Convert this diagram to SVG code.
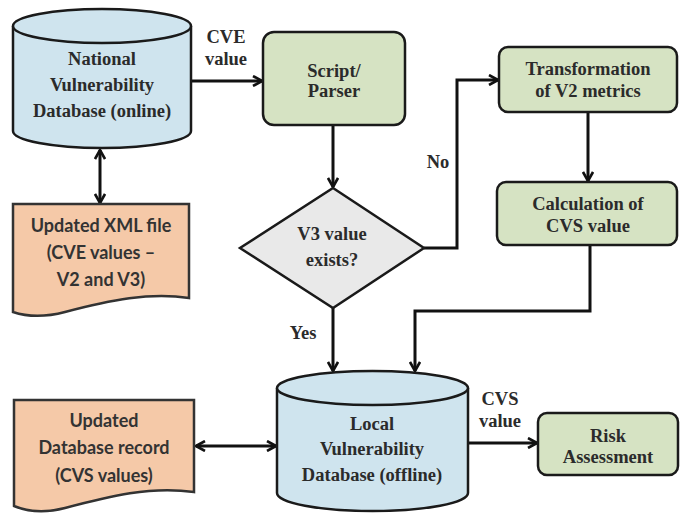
<svg xmlns="http://www.w3.org/2000/svg" width="680" height="515" viewBox="0 0 680 515">
  <style>
    text { font-weight: bold; text-anchor: middle; }
    .ser { font-size: 18.5px; fill: #2b2b2b; }
    .san { font-size: 18px; fill: #333; }
    .db { fill: #cfe4ee; stroke: #1a1a1a; stroke-width: 2.5; }
    .proc { fill: #d6e3c3; stroke: #1a1a1a; stroke-width: 2.5; }
    .doc { fill: #f5c9a8; stroke: #333; stroke-width: 2.5; }
    .dec { fill: #e9e9e9; stroke: #1a1a1a; stroke-width: 2.5; }
    .edge { fill: none; stroke: #111; stroke-width: 3; }
  </style>
  <defs>
    <marker id="arr" viewBox="0 0 12 12" refX="10" refY="6" markerWidth="12" markerHeight="12" markerUnits="userSpaceOnUse" orient="auto-start-reverse">
      <path d="M1,1 L10,6 L1,11" fill="none" stroke="#111" stroke-width="2.6"/>
    </marker>
  </defs>

  <!-- connectors -->
  <g id="connectors">
    <path class="edge" d="M191,81 H262" marker-end="url(#arr)"/>
    <path class="edge" d="M100,150 V203" marker-start="url(#arr)" marker-end="url(#arr)"/>
    <path class="edge" d="M333,125 V187" marker-end="url(#arr)"/>
    <path class="edge" d="M424,248 H457 V80 H498" marker-end="url(#arr)"/>
    <path class="edge" d="M588,112 V181" marker-end="url(#arr)"/>
    <path class="edge" d="M590,245 V311 H415 V371" marker-end="url(#arr)"/>
    <path class="edge" d="M333,308 V371" marker-end="url(#arr)"/>
    <path class="edge" d="M468,443 H537" marker-end="url(#arr)"/>
    <path class="edge" d="M196,446 H276" marker-start="url(#arr)" marker-end="url(#arr)"/>
    <g font-family="Liberation Serif, serif">
      <text class="ser" x="226" y="43">CVE</text>
      <text class="ser" x="226" y="65">value</text>
      <text class="ser" x="438" y="168">No</text>
      <text class="ser" x="303" y="339">Yes</text>
      <text class="ser" x="500" y="405">CVS</text>
      <text class="ser" x="500" y="427">value</text>
    </g>
  </g>

  <!-- National Vulnerability Database -->
  <g id="nvd" font-family="Liberation Serif, serif">
    <path class="db" d="M13,26 V131 A89,17 0 0 0 191,131 V26 A89,17 0 0 0 13,26 Z"/>
    <path class="db" d="M13,26 A89,17 0 0 0 191,26" fill="none"/>
    <text class="ser" x="102" y="65">National</text>
    <text class="ser" x="102" y="91">Vulnerability</text>
    <text class="ser" x="102" y="117">Database (online)</text>
  </g>

  <!-- Updated XML file -->
  <g id="xml" font-family="Lato, Liberation Sans, sans-serif">
    <path class="doc" d="M13,204 H189 V298 C150,292 110,300 65,312 C42,318 25,316 13,312 Z"/>
    <text class="san" x="101" y="232">Updated XML file</text>
    <text class="san" x="101" y="259">(CVE values –</text>
    <text class="san" x="101" y="286">V2 and V3)</text>
  </g>

  <!-- Script/Parser -->
  <g id="parser" font-family="Liberation Serif, serif">
    <rect class="proc" x="263" y="32" width="142" height="93" rx="11"/>
    <text class="ser" x="334" y="77">Script/</text>
    <text class="ser" x="334" y="97">Parser</text>
  </g>

  <!-- V3 value exists? -->
  <g id="check" font-family="Liberation Serif, serif">
    <polygon class="dec" points="333,188 424,248 333,308 240,248"/>
    <text class="ser" x="332" y="240">V3 value</text>
    <text class="ser" x="332" y="266">exists?</text>
  </g>

  <!-- Transformation of V2 metrics -->
  <g id="transform" font-family="Liberation Serif, serif">
    <rect class="proc" x="499" y="47" width="178" height="65" rx="9"/>
    <text class="ser" x="588" y="75">Transformation</text>
    <text class="ser" x="588" y="97">of V2 metrics</text>
  </g>

  <!-- Calculation of CVS value -->
  <g id="calc" font-family="Liberation Serif, serif">
    <rect class="proc" x="497" y="182" width="180" height="63" rx="9"/>
    <text class="ser" x="588" y="210">Calculation of</text>
    <text class="ser" x="588" y="232">CVS value</text>
  </g>

  <!-- Local Vulnerability Database -->
  <g id="lvd" font-family="Liberation Serif, serif">
    <path class="db" d="M277,388 V493 A95.5,18 0 0 0 468,493 V388 A95.5,17 0 0 0 277,388 Z"/>
    <path class="db" d="M277,388 A95.5,17 0 0 0 468,388" fill="none"/>
    <text class="ser" x="372" y="430">Local</text>
    <text class="ser" x="372" y="455">Vulnerability</text>
    <text class="ser" x="372" y="481">Database (offline)</text>
  </g>

  <!-- Updated Database record -->
  <g id="record" font-family="Lato, Liberation Sans, sans-serif">
    <path class="doc" d="M14,400 H194 V492 C150,486 110,496 65,508 C42,514 26,511 14,506 Z"/>
    <text class="san" x="104" y="427">Updated</text>
    <text class="san" x="104" y="454">Database record</text>
    <text class="san" x="104" y="482">(CVS values)</text>
  </g>

  <!-- Risk Assessment -->
  <g id="risk" font-family="Liberation Serif, serif">
    <rect class="proc" x="538" y="413" width="140" height="62" rx="9"/>
    <text class="ser" x="608" y="442">Risk</text>
    <text class="ser" x="608" y="463">Assessment</text>
  </g>
</svg>
